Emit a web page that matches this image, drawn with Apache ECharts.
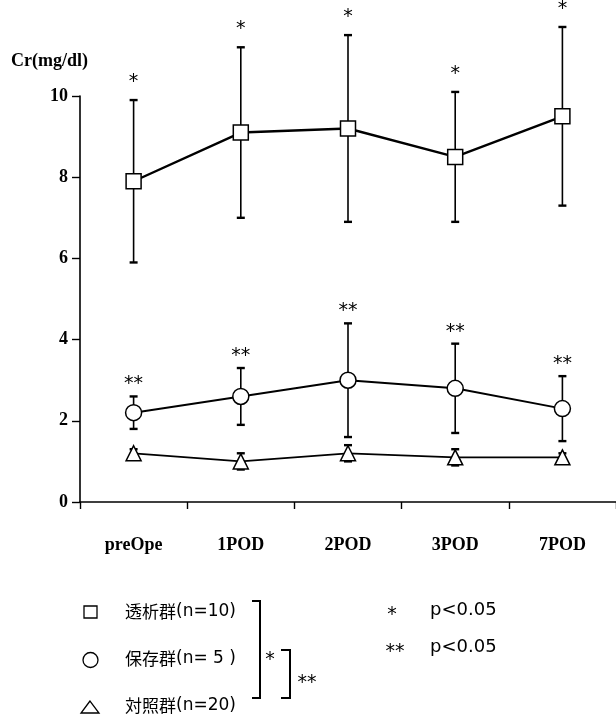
<!DOCTYPE html>
<html>
<head>
<meta charset="utf-8">
<script src="https://cdn.jsdelivr.net/npm/echarts@6/dist/echarts.min.js"></script>
<style>
  html, body { margin: 0; padding: 0; background: #fff; }
  #chart { width: 616px; height: 715px; }
</style>
</head>
<body>
<div id="chart"></div>
<script>
var categories = ['preOpe', '1POD', '2POD', '3POD', '7POD'];

// 透析群
var dialysisMean = [7.9, 9.1, 9.2, 8.5, 9.5];
var dialysisSD = [2.0, 2.1, 2.3, 1.6, 2.2];
var dialysisStars = ['*', '*', '*', '*', '*'];

// 保存群
var preservedMean = [2.2, 2.6, 3.0, 2.8, 2.3];
var preservedSD = [0.4, 0.7, 1.4, 1.1, 0.8];
var preservedStars = ['**', '**', '**', '**', '**'];

// 対照群
var controlMean = [1.2, 1.0, 1.2, 1.1, 1.1];
var controlSD = [0.1, 0.2, 0.2, 0.2, 0.1];
var controlStars = ['', '', '', '', ''];

var yTicks = [0, 2, 4, 6, 8, 10];

var serif = '"Liberation Serif", "DejaVu Serif", serif';
var jp = '"Noto Sans CJK JP", "Noto Sans", sans-serif';
var sans = '"DejaVu Sans", sans-serif';

var myChart = echarts.init(document.getElementById('chart'));

function errData(means, sds) {
    var arr = [];
    for (var i = 0; i < means.length; i++) {
        arr.push([i, means[i], sds[i]]);
    }
    return arr;
}

function errorBar(stars, starGap) {
    return function (params, api) {
        var i = api.value(0);
        var m = api.value(1);
        var s = api.value(2);
        var top = api.coord([i, m + s]);
        var bot = api.coord([i, m - s]);
        var hw = 4;
        var st = { stroke: '#000', lineWidth: 1.6 };
        return {
            type: 'group',
            children: [
                { type: 'line', shape: { x1: top[0], y1: top[1], x2: bot[0], y2: bot[1] }, style: st },
                { type: 'line', shape: { x1: top[0] - hw, y1: top[1], x2: top[0] + hw, y2: top[1] }, style: { stroke: '#000', lineWidth: 2.4 } },
                { type: 'line', shape: { x1: bot[0] - hw, y1: bot[1], x2: bot[0] + hw, y2: bot[1] }, style: { stroke: '#000', lineWidth: 2.4 } },
                {
                    type: 'text',
                    style: {
                        text: stars[params.dataIndex],
                        x: top[0], y: top[1] - starGap,
                        align: 'center', verticalAlign: 'middle',
                        font: '19px ' + sans, fill: '#000'
                    }
                }
            ]
        };
    };
}

function lineSeries(name, means, symbol, size, width) {
    return {
        name: name,
        type: 'line',
        data: means,
        symbol: symbol,
        symbolSize: size,
        z: 5,
        lineStyle: { color: '#000', width: width },
        itemStyle: { color: '#fff', borderColor: '#000', borderWidth: 1.5 },
        emphasis: { disabled: true }
    };
}

var option = {
    animation: false,
    title: {
        text: 'Cr(mg/dl)',
        left: 6,
        top: 47,
        textStyle: { fontFamily: serif, fontWeight: 'bold', fontSize: 18, color: '#000' }
    },
    grid: { left: 80, right: 0, top: 96, bottom: 213 },
    xAxis: {
        type: 'category',
        data: categories,
        boundaryGap: true,
        axisLine: { lineStyle: { color: '#000', width: 1.6 } },
        axisTick: { show: true, length: 7, lineStyle: { color: '#000', width: 1.4 } },
        axisLabel: { margin: 34, color: '#000', fontFamily: serif, fontWeight: 'bold', fontSize: 18 }
    },
    yAxis: {
        type: 'value',
        min: yTicks[0],
        max: yTicks[yTicks.length - 1],
        interval: 2,
        splitLine: { show: false },
        axisLine: { show: true, lineStyle: { color: '#000', width: 1.6 } },
        axisTick: { show: true, length: 8, lineStyle: { color: '#000', width: 1.4 } },
        axisLabel: { margin: 12, color: '#000', fontFamily: serif, fontWeight: 'bold', fontSize: 18 }
    },
    series: [
        { type: 'custom', renderItem: errorBar(dialysisStars, 18), data: errData(dialysisMean, dialysisSD), z: 2, clip: false },
        { type: 'custom', renderItem: errorBar(preservedStars, 12), data: errData(preservedMean, preservedSD), z: 2, clip: false },
        { type: 'custom', renderItem: errorBar(controlStars, 11), data: errData(controlMean, controlSD), z: 2, clip: false },
        lineSeries('透析群', dialysisMean, 'rect', 15, 2.4),
        lineSeries('保存群', preservedMean, 'circle', 16, 2),
        lineSeries('対照群', controlMean, 'triangle', 15, 1.8)
    ],
    graphic: [
        { type: 'rect', shape: { x: 84, y: 606, width: 13, height: 12 }, style: { fill: '#fff', stroke: '#000', lineWidth: 1.3 } },
        { type: 'circle', shape: { cx: 90.5, cy: 660, r: 7.5 }, style: { fill: '#fff', stroke: '#000', lineWidth: 1.3 } },
        { type: 'polygon', shape: { points: [[90, 701], [81, 713], [99, 713]] }, style: { fill: '#fff', stroke: '#000', lineWidth: 1.3 } },
        {
            type: 'text', x: 125, y: 612,
            style: {
                text: '{c|透析群}{l|(n=10)}', verticalAlign: 'middle', fill: '#000',
                rich: { c: { font: '17px ' + jp }, l: { font: '17px ' + sans } }
            }
        },
        {
            type: 'text', x: 125, y: 659,
            style: {
                text: '{c|保存群}{l|(n= 5 )}', verticalAlign: 'middle', fill: '#000',
                rich: { c: { font: '17px ' + jp }, l: { font: '17px ' + sans } }
            }
        },
        {
            type: 'text', x: 125, y: 706,
            style: {
                text: '{c|対照群}{l|(n=20)}', verticalAlign: 'middle', fill: '#000',
                rich: { c: { font: '17px ' + jp }, l: { font: '17px ' + sans } }
            }
        },
        { type: 'polyline', shape: { points: [[252, 601], [260, 601], [260, 698], [252, 698]] }, style: { stroke: '#000', lineWidth: 2, fill: null } },
        { type: 'text', style: { text: '*', x: 270, y: 660, align: 'center', verticalAlign: 'middle', font: '19px ' + sans, fill: '#000' } },
        { type: 'polyline', shape: { points: [[281, 650], [290, 650], [290, 698], [281, 698]] }, style: { stroke: '#000', lineWidth: 2, fill: null } },
        { type: 'text', style: { text: '**', x: 307, y: 683, align: 'center', verticalAlign: 'middle', font: '19px ' + sans, fill: '#000' } },
        { type: 'text', style: { text: '*', x: 392, y: 615, align: 'center', verticalAlign: 'middle', font: '19px ' + sans, fill: '#000' } },
        { type: 'text', style: { text: 'p<0.05', x: 430, y: 610, verticalAlign: 'middle', font: '18px ' + sans, fill: '#000' } },
        { type: 'text', style: { text: '**', x: 395, y: 652, align: 'center', verticalAlign: 'middle', font: '19px ' + sans, fill: '#000' } },
        { type: 'text', style: { text: 'p<0.05', x: 430, y: 647, verticalAlign: 'middle', font: '18px ' + sans, fill: '#000' } }
    ]
};

myChart.setOption(option);
</script>
</body>
</html>
